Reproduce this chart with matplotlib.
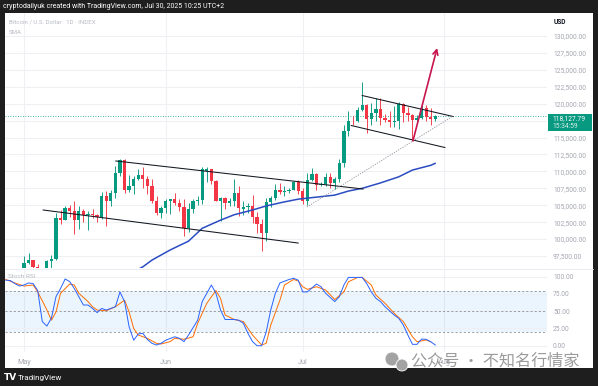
import matplotlib
matplotlib.use('Agg')
import matplotlib.pyplot as plt
import numpy as np
from matplotlib.patches import Rectangle, Ellipse

# ---------------- data ----------------
# day index 0 = May 1, 2025 (daily candles, BTCUSD INDEX)
opens = [94200, 96490, 96910, 95890, 94320, 94750, 96830, 97030, 103100, 102850,
         104600, 104140, 102800, 104150, 103550, 103750, 103500, 103200, 106400, 105600,
         106800, 109700, 111700, 107300, 107800, 108900, 109400, 108900, 107800, 105600,
         103900, 104600, 105700, 105900, 105400, 104700, 101600, 104400, 105600, 105800,
         110100, 110300, 108600, 105700, 106100, 105400, 105600, 106800, 104500, 104700,
         104900, 103300, 102200, 100900, 105500, 106100, 107300, 106900, 107100, 107300,
         108400, 107100, 105700, 108800, 109600, 108000, 108200, 109200, 108300, 108900,
         111300, 115900, 117500, 117400, 119100, 119800, 117700, 118700, 119200, 117900,
         117600, 117300, 117400, 119900, 118600, 118300, 117600, 117900, 119400, 118000,
         117800]
highs = [97440, 97900, 96950, 96320, 95200, 96900, 97700, 103900, 104300, 104900,
         105000, 105700, 104900, 104400, 104200, 104500, 103700, 107000, 107100, 107300,
         110800, 111900, 111900, 109500, 109300, 110400, 110700, 109300, 108900, 106300,
         104900, 105900, 105900, 106800, 105900, 105900, 105300, 105900, 106400, 110600,
         110600, 110400, 108800, 106200, 106200, 106100, 108900, 107800, 105600, 105300,
         106500, 104000, 103000, 106100, 106300, 108100, 108300, 107800, 107600, 108500,
         108800, 107500, 109700, 110500, 109800, 108400, 109700, 109700, 109200, 111900,
         116800, 118900, 118200, 119500, 123200, 119900, 120100, 120900, 120900, 118500,
         118900, 119700, 120200, 120100, 119500, 118500, 118300, 119800, 119800, 119300,
         118400]
lows = [94130, 96320, 95760, 94170, 93500, 93400, 95800, 96900, 102300, 102800,
        103300, 100800, 101500, 102600, 101400, 103100, 102600, 102900, 102000, 104900,
        106100, 109300, 106800, 106900, 106600, 108700, 107600, 106700, 105300, 103600,
        103100, 103900, 103700, 105000, 104100, 100400, 101100, 103900, 105000, 105200,
        108400, 108100, 105600, 102700, 104500, 104900, 104900, 103400, 103600, 103900,
        102400, 100900, 98200, 99700, 104700, 105800, 106600, 106400, 106800, 107200,
        106700, 105200, 105100, 108600, 107300, 107800, 107800, 107500, 107400, 108400,
        110600, 115300, 116900, 117300, 118900, 115700, 116900, 117500, 116900, 117300,
        116500, 116500, 116200, 117300, 117400, 114700, 117200, 117800, 117500, 116900,
        117500]
closes = [96490, 96910, 95890, 94320, 94750, 96830, 97030, 103100, 102850, 104600,
          104140, 102800, 104150, 103550, 103750, 103500, 103200, 106400, 105600, 106800,
          109700, 111700, 107300, 107800, 108900, 109400, 108900, 107800, 105600, 103900,
          104600, 105700, 105900, 105400, 104700, 101600, 104400, 105600, 105800, 110300,
          110300, 108600, 105700, 106100, 105400, 105600, 106800, 104600, 104700, 104900,
          103300, 102200, 100900, 105500, 106100, 107300, 106900, 107100, 107300, 108400,
          107100, 105700, 108800, 109600, 108000, 108200, 109200, 108300, 108900, 111300,
          115900, 117500, 117400, 119100, 119800, 117700, 118700, 119200, 117900, 117600,
          117300, 117400, 119900, 118600, 118300, 117600, 117900, 119400, 118000, 117800,
          118128]
last_price = 118127.79
last_price_label = "118,127.79"
countdown_label = "15:34:59"

sma_days = [24, 26, 28, 32, 36, 39, 43, 46, 50, 53, 57, 60, 64, 68, 71, 74, 78, 82, 85, 89, 90]
sma_vals = [95200, 95900, 96900, 98400, 99700, 101600, 102800, 103600, 104300, 104900,
            105500, 105900, 106200, 106500, 107100, 107500, 108300, 109200, 110200, 110900, 111200]

# Stoch RSI
k_days = [-4, -3, -2, -1, 0, 1, 2, 3, 4, 5, 6, 7, 8, 9, 10, 11, 12, 13, 14, 15, 16, 17, 18,
          20, 21, 22, 23, 24, 25, 26, 27, 28, 29, 30, 31, 33, 34, 35, 36, 38, 39, 41, 42, 43,
          44, 46, 47, 48, 49, 50, 51, 52, 53, 54, 55, 56, 58, 59, 60, 61, 62, 64, 65, 66, 68,
          69, 70, 71, 72, 74, 75, 76, 77, 78, 79, 81, 82, 83, 84, 85, 86, 87, 88, 89, 90]
k_vals = [95, 94.5, 90, 86.5, 88, 91, 90, 80, 35, 28.5, 40, 71, 83, 96.7, 93, 83, 71, 59, 59,
          54, 48, 54, 51.7, 56.5, 78, 64, 27.5, 8, 17, 18, 9, 3.5, 1, 3.5, 8, 13, 10.7, 6,
          15.5, 37, 64, 88, 76, 52, 38, 38, 37, 32.5, 18, 6, 0, 0, 20, 52, 76, 91, 96, 97.7,
          95, 78, 78, 89.4, 85.5, 76, 64, 71, 88, 99, 99, 99, 90, 78, 68.7, 64, 56.5, 44.5,
          39.7, 30, 15.5, 2, 2, 9.7, 9.3, 5.8, 1]
d_days = [-4, -2, 0, 2, 3, 5, 6, 7, 8, 10, 11, 12, 14, 15, 16, 18, 20, 22, 23, 24, 25, 27,
          29, 30, 32, 33, 35, 37, 38, 40, 42, 43, 44, 46, 48, 50, 52, 53, 54, 56, 57, 59, 60,
          61, 62, 64, 66, 68, 70, 71, 73, 74, 76, 77, 79, 81, 83, 85, 86, 88, 89]
d_vals = [96, 91, 86.5, 88, 78, 52, 37, 49, 76, 89.4, 88, 76, 64, 56.5, 51.7, 50.7, 56.5,
          66, 49, 25, 15.5, 10.7, 3.5, 2.5, 6, 10.7, 9.3, 13, 32.5, 61.5, 80, 68.7, 44.5,
          38, 35, 15.5, 1, 3.5, 30, 66, 88, 96, 94, 85.5, 81.7, 85.5, 80.7, 67, 78, 92.7,
          99, 99, 88, 73.5, 61.5, 47, 35, 13, 5.8, 8.3, 5.8]

# drawings (day, price)
chan_low_days = [4.2, 60.0]
chan_low_prices = [104300, 99420]
chan_up_days = [20.1, 74.2]
chan_up_prices = [111540, 107400]
flag_up_days = [74.0, 93.9]
flag_up_prices = [121210, 118110]
flag_low_days = [71.6, 92.1]
flag_low_prices = [116780, 113530]
diag_days = [61.9, 93.9]
diag_prices = [104740, 118180]
arrow_days = [85.1, 90.4]
arrow_prices = [114500, 128230]

month_days = [0, 31, 61, 92]
month_labels = ["May", "Jun", "Jul", "Aug"]
price_ticks = list(range(97500, 130001, 2500))
hidden_tick = 117500  # covered by the last-price tag
rsi_ticks = [100, 75, 50, 25, 0]

# ---------------- figure ----------------
W, H = 598, 386
fig = plt.figure(figsize=(W / 100, H / 100), dpi=100, facecolor='#1e1e1e')

def fx(px):
    return px / W

def fy(py):
    return 1 - py / H

FONT = 'Roboto'
LBL = '#a3a6af'
GRID = '#eef0f4'

fig.patches.append(Rectangle((fx(5), fy(368)), fx(593) - fx(5), fy(13) - fy(368),
                             transform=fig.transFigure, facecolor='white',
                             edgecolor='none', zorder=-10))

ax = fig.add_axes([fx(5), fy(268), fx(547) - fx(5), fy(13) - fy(268)])
axr = fig.add_axes([fx(5), fy(352), fx(547) - fx(5), fy(269) - fy(352)])
x_lo, x_hi = (5 - 24) / 4.57, (547 - 24) / 4.57
for a in (ax, axr):
    a.set_facecolor('none')
    a.set_xlim(x_lo, x_hi)
    for s in a.spines.values():
        s.set_visible(False)
    for d in month_days:
        a.axvline(d, color=GRID, lw=0.8, zorder=0)

# price pane
ax.set_ylim(95733, 133397)
ax.yaxis.tick_right()
ax.set_yticks(price_ticks)
ax.set_yticklabels(["" if v == hidden_tick else f"{v:,.2f}" for v in price_ticks],
                   fontsize=4.8, color=LBL, family=FONT)
ax.tick_params(axis='y', length=0, pad=4.3)
ax.set_xticks([])
for v in price_ticks:
    ax.axhline(v, color=GRID, lw=0.8, zorder=0)

o = np.array(opens, float)
c = np.array(closes, float)
h = np.array(highs, float)
l = np.array(lows, float)
days = np.arange(len(o))
cols = np.where(c >= o, '#089981', '#f23645')
ax.vlines(days, l, h, colors=cols, lw=0.65, zorder=3)
ax.bar(days, np.maximum(np.abs(c - o), 100), bottom=np.minimum(o, c), width=0.72,
       color=cols, lw=0, zorder=4)

ax.plot(sma_days, sma_vals, color='#2a4cc2', lw=1.1, zorder=5, solid_capstyle='round')
ax.axhline(last_price, color='#089981', lw=0.6, ls=(0, (1, 2)), zorder=2)

for dd, pp in ((chan_low_days, chan_low_prices), (chan_up_days, chan_up_prices),
               (flag_up_days, flag_up_prices), (flag_low_days, flag_low_prices)):
    ax.plot(dd, pp, color='#131722', lw=0.75, zorder=6)
ax.plot(diag_days, diag_prices, color='#8e919a', lw=0.6, ls=(0, (1.5, 1.5)), zorder=6)
ax.annotate('', xy=(arrow_days[1], arrow_prices[1]), xytext=(arrow_days[0], arrow_prices[0]),
            arrowprops=dict(arrowstyle='->', color='#c8154e', lw=1.2,
                            mutation_scale=9, shrinkA=0, shrinkB=0), zorder=7)

# RSI pane
axr.set_ylim(-9.1, 111.2)
axr.axhspan(20, 80, color='#2196f3', alpha=0.09, lw=0, zorder=0)
for v in rsi_ticks:
    axr.axhline(v, color=GRID, lw=0.8, zorder=0)
for v in (80, 50, 20):
    axr.axhline(v, color='#8a8d96', lw=0.6, ls=(0, (2.5, 2.5)), zorder=1)
axr.plot(d_days, d_vals, color='#ff6d00', lw=0.7, zorder=3)
axr.plot(k_days, k_vals, color='#2962ff', lw=0.7, zorder=4)
axr.yaxis.tick_right()
axr.set_yticks(rsi_ticks)
axr.set_yticklabels([f"{v:.2f}" for v in rsi_ticks], fontsize=4.8, color=LBL, family=FONT)
axr.tick_params(axis='y', length=0, pad=4.3)
axr.set_xticks(month_days)
axr.set_xticklabels(month_labels, fontsize=5.2, color=LBL, family=FONT)
axr.tick_params(axis='x', length=0, pad=5)

# pane separator
fig.add_artist(plt.Line2D([fx(5), fx(593)], [fy(268.5), fy(268.5)], transform=fig.transFigure,
                          color='#e6e8ee', lw=0.6))

# texts
fig.text(fx(3), fy(6.5), "cryptodailyuk created with TradingView.com, Jul 30, 2025 10:25 UTC+2",
         color='white', fontsize=5.0, family=FONT, va='center', ha='left')
fig.text(fx(9), fy(22), "Bitcoin / U.S. Dollar · 1D · INDEX", color='#b8bbc3', fontsize=4.4,
         family=FONT, va='center')
fig.text(fx(9), fy(32), "SMA", color='#b8bbc3', fontsize=4.4, family=FONT, va='center')
fig.text(fx(8), fy(277), "Stoch RSI", color='#b8bbc3', fontsize=4.6, family=FONT, va='center')
fig.text(fx(554), fy(22.5), "USD", color='#131722', fontsize=4.8, family=FONT, va='center',
         weight='bold')

# last price tag
fig.patches.append(Rectangle((fx(548), fy(131)), fx(592) - fx(548), fy(114) - fy(131),
                             transform=fig.transFigure, facecolor='#089981', edgecolor='none',
                             zorder=10))
fig.text(fx(552), fy(118.5), last_price_label, color='white', fontsize=4.8, family=FONT,
         va='center', zorder=11)
fig.text(fx(552), fy(126.8), countdown_label, color='#d8f0ea', fontsize=4.8, family=FONT,
         va='center', zorder=11)

# bottom bar
fig.text(fx(4), fy(378), "TV", color='white', fontsize=6.5, family='DejaVu Sans',
         weight='bold', va='center')
fig.text(fx(18), fy(378), "TradingView", color='white', fontsize=5.8, family=FONT, va='center')

# watermark
for (cx, cy, r) in ((392, 359, 7), (402, 365, 6)):
    fig.patches.append(Ellipse((fx(cx), fy(cy)), 2 * r / W, 2 * r / H,
                               transform=fig.transFigure, facecolor='#a3a3a3',
                               edgecolor='white', lw=0.6, zorder=12))
fig.text(fx(411), fy(361), "公众号 · 不知名行情家", color='#9b9b9b', fontsize=11.6,
         family=['Noto Sans CJK SC', 'DejaVu Sans'], va='center', ha='left', zorder=12)

fig.savefig('out.png', dpi=100, facecolor=fig.get_facecolor())
